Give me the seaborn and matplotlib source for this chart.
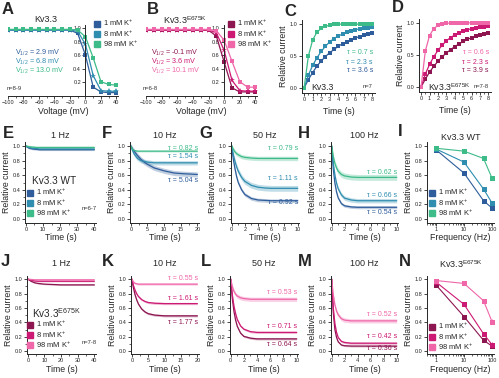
import matplotlib
matplotlib.use('Agg')
import matplotlib.pyplot as plt
from matplotlib.lines import Line2D
from matplotlib.ticker import MultipleLocator, FormatStrFormatter, NullFormatter, LogLocator
import numpy as np
import seaborn as sns

# ─────────────────────────────────────────────
# DATA
# ─────────────────────────────────────────────
CONC_LABELS = ['1 mM K$^{+}$', '8 mM K$^{+}$', '98 mM K$^{+}$']
WT_COLORS   = ['#2f5d9b', '#2f8db0', '#3dbb89']
MUT_COLORS  = ['#8d1651', '#cc1a74', '#ef66a9']

# A / B : steady-state inactivation
volts      = [-100, -90, -80, -70, -60, -50, -40, -30, -20, -10, 0, 10, 20, 30, 40]
wt_ss_1    = [0.97, 0.97, 0.97, 0.97, 0.97, 0.97, 0.97, 0.97, 0.97, 0.92, 0.60, 0.13, 0.06, 0.05, 0.05]
wt_ss_8    = [0.97, 0.97, 0.97, 0.97, 0.97, 0.97, 0.97, 0.97, 0.97, 0.95, 0.76, 0.30, 0.08, 0.07, 0.07]
wt_ss_98   = [0.98, 0.98, 0.98, 0.98, 0.98, 0.98, 0.98, 0.98, 0.98, 0.97, 0.87, 0.56, 0.21, 0.17, 0.16]
mut_ss_1   = [0.97, 0.97, 0.97, 0.97, 0.97, 0.97, 0.97, 0.97, 0.97, 0.88, 0.50, 0.12, 0.06, 0.06, 0.06]
mut_ss_8   = [0.97, 0.97, 0.97, 0.97, 0.97, 0.97, 0.97, 0.97, 0.97, 0.93, 0.67, 0.23, 0.08, 0.07, 0.07]
mut_ss_98  = [0.98, 0.98, 0.98, 0.98, 0.98, 0.98, 0.98, 0.98, 0.98, 0.96, 0.82, 0.51, 0.21, 0.13, 0.13]
wt_vhalf   = ['2.9', '6.8', '13.0']
mut_vhalf  = ['-0.1', '3.6', '10.1']

# C / D : recovery from inactivation
t_rec      = [0, 0.5, 1, 1.5, 2, 2.5, 3, 3.5, 4, 4.5, 5, 5.5, 6, 6.5, 7, 7.5, 8]
wt_rec_1   = [0.0, 0.13, 0.24, 0.34, 0.42, 0.49, 0.55, 0.60, 0.65, 0.69, 0.72, 0.75, 0.78, 0.80, 0.82, 0.84, 0.86]
wt_rec_8   = [0.0, 0.20, 0.35, 0.47, 0.57, 0.65, 0.72, 0.77, 0.81, 0.84, 0.87, 0.89, 0.91, 0.92, 0.93, 0.94, 0.95]
wt_rec_98  = [0.0, 0.50, 0.75, 0.87, 0.93, 0.96, 0.98, 0.99, 0.99, 1.0, 1.0, 1.0, 1.0, 0.99, 1.0, 1.0, 1.0]
mut_rec_1  = [0.0, 0.12, 0.23, 0.32, 0.40, 0.47, 0.53, 0.58, 0.63, 0.67, 0.71, 0.74, 0.77, 0.79, 0.81, 0.83, 0.84]
mut_rec_8  = [0.0, 0.20, 0.35, 0.47, 0.57, 0.65, 0.72, 0.77, 0.81, 0.84, 0.87, 0.89, 0.91, 0.92, 0.93, 0.94, 0.95]
mut_rec_98 = [0.0, 0.56, 0.80, 0.91, 0.96, 0.98, 0.99, 1.0, 1.0, 1.0, 1.0, 1.0, 1.0, 1.0, 1.0, 1.0, 1.0]
# tau values in order 1, 8, 98 mM
wt_rec_tau  = ['3.6', '2.3', '0.7']
mut_rec_tau = ['3.9', '2.3', '0.6']

# E-H / J-M : cumulative inactivation traces
t_1hz        = [0, 2, 4, 6, 8, 10, 15, 20, 25, 30, 35, 40]
wt_1hz_1     = [1.0, 0.97, 0.96, 0.955, 0.95, 0.95, 0.95, 0.95, 0.95, 0.95, 0.95, 0.95]
wt_1hz_8     = [1.0, 0.98, 0.97, 0.965, 0.96, 0.96, 0.96, 0.96, 0.96, 0.96, 0.96, 0.96]
wt_1hz_98    = [1.0, 0.99, 0.985, 0.98, 0.98, 0.98, 0.98, 0.98, 0.98, 0.98, 0.98, 0.98]
mut_1hz_1    = [1.0, 0.97, 0.95, 0.94, 0.935, 0.93, 0.925, 0.92, 0.92, 0.92, 0.92, 0.92]
mut_1hz_8    = [1.0, 0.985, 0.975, 0.97, 0.97, 0.97, 0.97, 0.97, 0.97, 0.97, 0.97, 0.97]
mut_1hz_98   = [1.0, 0.995, 0.99, 0.99, 0.99, 0.99, 0.99, 0.99, 0.99, 0.99, 0.99, 0.99]

t_10hz       = [0, 0.5, 1, 1.5, 2, 3, 4, 5, 7, 10, 13, 16, 20]
wt_10hz_1    = [1.0, 0.96, 0.93, 0.90, 0.87, 0.82, 0.78, 0.75, 0.70, 0.66, 0.63, 0.62, 0.61]
wt_10hz_8    = [1.0, 0.94, 0.89, 0.86, 0.83, 0.80, 0.79, 0.78, 0.77, 0.77, 0.77, 0.77, 0.77]
wt_10hz_98   = [1.0, 0.955, 0.94, 0.935, 0.93, 0.93, 0.93, 0.93, 0.93, 0.93, 0.93, 0.93, 0.93]
mut_10hz_1   = [1.0, 0.875, 0.78, 0.71, 0.655, 0.585, 0.545, 0.52, 0.50, 0.49, 0.49, 0.49, 0.49]
mut_10hz_8   = [1.0, 0.91, 0.845, 0.795, 0.76, 0.715, 0.69, 0.675, 0.665, 0.66, 0.66, 0.66, 0.66]
mut_10hz_98  = [1.0, 0.96, 0.94, 0.935, 0.93, 0.93, 0.93, 0.93, 0.93, 0.93, 0.93, 0.93, 0.93]

t_fast       = [0, 0.25, 0.5, 0.75, 1, 1.5, 2, 3, 4, 5, 6, 8, 10]
wt_50hz_1    = [1.0, 0.82, 0.69, 0.58, 0.50, 0.40, 0.335, 0.28, 0.26, 0.255, 0.25, 0.25, 0.25]
wt_50hz_8    = [1.0, 0.88, 0.79, 0.715, 0.655, 0.57, 0.515, 0.46, 0.435, 0.425, 0.42, 0.42, 0.42]
wt_50hz_98   = [1.0, 0.955, 0.92, 0.895, 0.88, 0.855, 0.845, 0.835, 0.83, 0.83, 0.83, 0.83, 0.83]
wt_100hz_1   = [1.0, 0.69, 0.49, 0.37, 0.29, 0.21, 0.18, 0.165, 0.16, 0.16, 0.16, 0.16, 0.16]
wt_100hz_8   = [1.0, 0.765, 0.60, 0.49, 0.415, 0.33, 0.285, 0.26, 0.25, 0.25, 0.25, 0.25, 0.25]
wt_100hz_98  = [1.0, 0.855, 0.76, 0.70, 0.655, 0.61, 0.59, 0.575, 0.57, 0.57, 0.57, 0.57, 0.57]
mut_50hz_1   = [1.0, 0.73, 0.55, 0.43, 0.345, 0.25, 0.205, 0.18, 0.17, 0.17, 0.17, 0.17, 0.17]
mut_50hz_8   = [1.0, 0.78, 0.625, 0.52, 0.44, 0.35, 0.305, 0.27, 0.26, 0.26, 0.26, 0.26, 0.26]
mut_50hz_98  = [1.0, 0.895, 0.83, 0.79, 0.765, 0.74, 0.73, 0.72, 0.72, 0.72, 0.72, 0.72, 0.72]
mut_100hz_1  = [1.0, 0.535, 0.30, 0.19, 0.13, 0.085, 0.075, 0.07, 0.07, 0.07, 0.07, 0.07, 0.07]
mut_100hz_8  = [1.0, 0.60, 0.38, 0.26, 0.19, 0.135, 0.12, 0.11, 0.11, 0.11, 0.11, 0.11, 0.11]
mut_100hz_98 = [1.0, 0.78, 0.64, 0.555, 0.505, 0.45, 0.43, 0.42, 0.42, 0.42, 0.42, 0.42, 0.42]

# SEM half-widths of shaded bands (1, 8, 98 mM)
sem_wt_1hz    = [0.012, 0.010, 0.020]
sem_wt_10hz   = [0.035, 0.030, 0.012]
sem_wt_50hz   = [0.025, 0.040, 0.030]
sem_wt_100hz  = [0.020, 0.030, 0.040]
sem_mut_1hz   = [0.008, 0.008, 0.010]
sem_mut_10hz  = [0.015, 0.015, 0.015]
sem_mut_50hz  = [0.015, 0.015, 0.030]
sem_mut_100hz = [0.012, 0.015, 0.030]

wt_tau_10hz   = ['5.04', '1.54', '0.82']
wt_tau_50hz   = ['0.92', '1.11', '0.79']
wt_tau_100hz  = ['0.54', '0.66', '0.62']
mut_tau_10hz  = ['1.77', '1.61', '0.55']
mut_tau_50hz  = ['0.64', '0.71', '0.53']
mut_tau_100hz = ['0.36', '0.42', '0.52']

# I / N : frequency dependence
freq          = [1, 10, 50, 100]
wt_freq_1     = [0.95, 0.63, 0.25, 0.15]
wt_freq_8     = [0.96, 0.78, 0.41, 0.22]
wt_freq_98    = [0.97, 0.93, 0.83, 0.56]
mut_freq_1    = [0.92, 0.48, 0.15, 0.07]
mut_freq_8    = [0.96, 0.65, 0.24, 0.09]
mut_freq_98   = [0.98, 0.94, 0.70, 0.41]
wt_freq_sem   = [0.01, 0.02, 0.02, 0.03]
mut_freq_sem  = [0.01, 0.02, 0.02, 0.03]

# ─────────────────────────────────────────────
# STYLE
# ─────────────────────────────────────────────
sns.set_theme(style='ticks')
plt.rcParams['font.family'] = ['Liberation Sans', 'DejaVu Sans']
plt.rcParams['mathtext.fontset'] = 'custom'
plt.rcParams['mathtext.rm'] = 'Liberation Sans'
plt.rcParams['mathtext.it'] = 'Liberation Sans:italic'

W, H = 499, 378
fig = plt.figure(figsize=(W / 100, H / 100), dpi=100)
fig.patch.set_facecolor('white')

TICK_FS  = 4.0
LABEL_FS = 6.3
TITLE_FS = 6.5
TAU_FS   = 5.0
N_FS     = 4.2
MUT_TAG  = 'Kv3.3$^{\\mathrm{E675K}}$'


def add_ax(l, t, r, b):
    return fig.add_axes([l / W, 1 - b / H, (r - l) / W, (b - t) / H])


def ftext(x, y, s, **kw):
    kw.setdefault('va', 'center')
    return fig.text(x / W, 1 - y / H, s, **kw)


def style(ax):
    sns.despine(ax=ax)
    for sp in ('left', 'bottom'):
        ax.spines[sp].set_linewidth(0.7)
    ax.tick_params(which='major', labelsize=TICK_FS, length=2, width=0.6, pad=1.2)
    ax.tick_params(which='minor', length=1.2, width=0.5)
    ax.set_xlabel('')
    ax.set_ylabel('')


def square_legend(ax, colors, x, y):
    handles = [Line2D([], [], marker='s', ls='', color=c, markersize=4.2) for c in colors]
    ax.legend(handles, CONC_LABELS, loc='upper left', bbox_to_anchor=(x / W, 1 - y / H),
              bbox_transform=fig.transFigure, frameon=False, fontsize=5.4,
              handlelength=0.7, handletextpad=0.5, labelspacing=0.0,
              borderpad=0, borderaxespad=0)


def ylab(ax):
    ax.set_ylabel('Relative current', fontsize=LABEL_FS, labelpad=1)


# ─────────────────────────────────────────────
# A / B
# ─────────────────────────────────────────────
def ss_panel(box, series, colors, vhalf, vx, nlabel, title, title_x, leg_x):
    ax = add_ax(*box)
    markers = ['s', '*', 's']
    sizes = [3.0, 4.5, 3.0]
    for y, c, m, ms in zip(series, colors, markers, sizes):
        sns.lineplot(x=volts, y=y, color=c, lw=0.9, marker=m, markersize=ms,
                     markeredgewidth=0, ax=ax)
    style(ax)
    ax.spines['left'].set_position(('data', 0))
    ax.set_xlim(-100, 42)
    ax.set_ylim(0, 1.05)
    ax.set_yticks([0.2, 0.4, 0.6, 0.8, 1.0])
    ax.yaxis.set_major_formatter(FormatStrFormatter('%.1f'))
    ax.set_xticks(range(-100, 41, 20))
    ax.xaxis.set_minor_locator(MultipleLocator(10))
    ax.patch.set_alpha(0)
    square_legend(ax, colors, leg_x, 18)
    for i, (v, c) in enumerate(zip(vhalf, colors)):
        ftext(vx, 53 + 9 * i, 'V$_{1/2}$ = %s mV' % v, color=c, fontsize=5.2, ha='left')
    ftext(vx - 8, 88, nlabel, fontsize=N_FS, ha='left', color='#333333')
    ftext(title_x, 20, title, fontsize=TITLE_FS, ha='center')
    ftext((box[0] + box[2]) / 2, 111, 'Voltage (mV)', fontsize=LABEL_FS, ha='center')
    return ax


ss_panel((8, 24.6, 118, 96), [wt_ss_1, wt_ss_8, wt_ss_98], WT_COLORS, wt_vhalf, 15,
         'n=8-9', 'Kv3.3', 46, 94)
ss_panel((146, 24.6, 257, 96), [mut_ss_1, mut_ss_8, mut_ss_98], MUT_COLORS, mut_vhalf, 151,
         'n=6-8', MUT_TAG, 185, 228)

# ─────────────────────────────────────────────
# C / D
# ─────────────────────────────────────────────
def rec_panel(box, series, colors, taus, tag, nlabel):
    ax = add_ax(*box)
    for y, c in zip(series, colors):
        sns.lineplot(x=t_rec, y=y, color=c, lw=0.9, marker='s', markersize=2.6,
                     markeredgewidth=0, ax=ax)
    style(ax)
    ax.set_xlim(-0.25, 8.3)
    ax.set_ylim(-0.08, 1.06)
    ax.set_yticks([0.0, 0.5, 1.0])
    ax.yaxis.set_major_formatter(FormatStrFormatter('%.1f'))
    ax.set_xticks(range(0, 9))
    ax.xaxis.set_minor_locator(MultipleLocator(0.5))
    ylab(ax)
    ax.set_xlabel('Time (s)', fontsize=LABEL_FS, labelpad=3)
    right = box[2] - 2
    # top line is the 98 mM fit, bottom line the 1 mM fit
    for i, (tau, c) in enumerate(zip(taus[::-1], colors[::-1])):
        ftext(right, 53 + 9 * i, 'τ = %s s' % tau, color=c, fontsize=TAU_FS, ha='right')
    ftext(box[0] + 9, 87, tag, fontsize=6.3, ha='left')
    ftext(right, 87, nlabel, fontsize=N_FS, ha='right', color='#333333')
    return ax


rec_panel((302, 20, 375, 93), [wt_rec_1, wt_rec_8, wt_rec_98], WT_COLORS, wt_rec_tau,
          'Kv3.3', 'n=7')
rec_panel((419, 19, 491, 92), [mut_rec_1, mut_rec_8, mut_rec_98], MUT_COLORS, mut_rec_tau,
          MUT_TAG, 'n=7-8')

# ─────────────────────────────────────────────
# TRACES (E-H, J-M)
# ─────────────────────────────────────────────
def trace_panel(box, t, series, sems, colors, xlim, xstep, ylim, title, title_y,
                xlab_y, taus=None, tau_y=None):
    ax = add_ax(*box)
    for y, s, c in zip(series, sems, colors):
        y = np.asarray(y)
        ax.fill_between(t, y - s, y + s, color=c, alpha=0.3, lw=0)
        sns.lineplot(x=t, y=y, color=c, lw=0.9, ax=ax)
    style(ax)
    ax.set_xlim(*xlim)
    ax.set_ylim(*ylim)
    ax.set_yticks([0.0, 0.2, 0.4, 0.6, 0.8, 1.0])
    ax.yaxis.set_major_formatter(FormatStrFormatter('%.1f'))
    ax.yaxis.set_minor_locator(MultipleLocator(0.1))
    ax.xaxis.set_major_locator(MultipleLocator(xstep))
    ax.xaxis.set_minor_locator(MultipleLocator(xstep / 2))
    ylab(ax)
    cx = (box[0] + box[2]) / 2
    ftext(cx, title_y, title, fontsize=TITLE_FS, ha='center')
    ftext(cx, xlab_y, 'Time (s)', fontsize=LABEL_FS, ha='center')
    if taus is not None:
        for tau, yy, c in zip(taus, tau_y, colors):
            ftext(box[2] - 1, yy, 'τ = %s s' % tau, color=c, fontsize=TAU_FS, ha='right')
    return ax


ROW2 = (142.4, 222.6)
ROW3 = (275.5, 354.0)
ylim2 = (-0.05, 1.05)
ylim3 = (-0.04, 1.05)

axE = trace_panel((25, ROW2[0], 96, ROW2[1]), t_1hz, [wt_1hz_1, wt_1hz_8, wt_1hz_98],
                  sem_wt_1hz, WT_COLORS, (-0.5, 41), 10, ylim2, '1 Hz', 136, 237)
trace_panel((130, ROW2[0], 199, ROW2[1]), t_10hz, [wt_10hz_1, wt_10hz_8, wt_10hz_98],
            sem_wt_10hz, WT_COLORS, (-0.25, 20.5), 5, ylim2, '10 Hz', 136, 237,
            wt_tau_10hz, [180, 156, 149])
trace_panel((231, ROW2[0], 299, ROW2[1]), t_fast, [wt_50hz_1, wt_50hz_8, wt_50hz_98],
            sem_wt_50hz, WT_COLORS, (-0.1, 10.2), 2, ylim2, '50 Hz', 136, 237,
            wt_tau_50hz, [202, 178, 148])
trace_panel((331, ROW2[0], 398, ROW2[1]), t_fast, [wt_100hz_1, wt_100hz_8, wt_100hz_98],
            sem_wt_100hz, WT_COLORS, (-0.1, 10.2), 2, ylim2, '100 Hz', 136, 237,
            wt_tau_100hz, [213, 195, 173])

axJ = trace_panel((27, ROW3[0], 96, ROW3[1]), t_1hz, [mut_1hz_1, mut_1hz_8, mut_1hz_98],
                  sem_mut_1hz, MUT_COLORS, (-0.5, 41), 10, ylim3, '1 Hz', 264, 370)
trace_panel((131, ROW3[0], 199, ROW3[1]), t_10hz, [mut_10hz_1, mut_10hz_8, mut_10hz_98],
            sem_mut_10hz, MUT_COLORS, (-0.25, 20.5), 5, ylim3, '10 Hz', 264, 370,
            mut_tau_10hz, [322, 298, 279])
trace_panel((230, ROW3[0], 298, ROW3[1]), t_fast, [mut_50hz_1, mut_50hz_8, mut_50hz_98],
            sem_mut_50hz, MUT_COLORS, (-0.1, 10.2), 2, ylim3, '50 Hz', 264, 370,
            mut_tau_50hz, [344, 327, 293])
trace_panel((331, ROW3[0], 398, ROW3[1]), t_fast, [mut_100hz_1, mut_100hz_8, mut_100hz_98],
            sem_mut_100hz, MUT_COLORS, (-0.1, 10.2), 2, ylim3, '100 Hz', 264, 370,
            mut_tau_100hz, [349, 336, 315])

# 1 Hz legends
square_legend(axE, WT_COLORS, 27, 187)
ftext(32, 181, 'Kv3.3 WT', fontsize=7.2, ha='left')
ftext(82, 209, 'n=6-7', fontsize=N_FS, ha='left', color='#333333')
square_legend(axJ, MUT_COLORS, 27, 319)
ftext(32, 313, MUT_TAG, fontsize=7.2, ha='left')
ftext(82, 342, 'n=7-8', fontsize=N_FS, ha='left', color='#333333')

# ─────────────────────────────────────────────
# I / N : frequency
# ─────────────────────────────────────────────
def freq_panel(box, series, sem, colors, ylim, title, title_y, xlab_y, leg_y):
    ax = add_ax(*box)
    for y, c in zip(series, colors):
        ax.errorbar(freq, y, yerr=sem, fmt='none', ecolor=c, elinewidth=0.6, capsize=0)
        sns.lineplot(x=freq, y=y, color=c, lw=0.8, marker='s', markersize=3.6,
                     markeredgewidth=0, ax=ax)
    style(ax)
    ax.set_xscale('log')
    ax.set_xlim(0.48, 118)
    ax.set_ylim(*ylim)
    ax.set_xticks([1, 10, 100])
    ax.set_xticklabels(['1', '10', '100'])
    ax.xaxis.set_minor_locator(LogLocator(base=10, subs=np.arange(2, 10)))
    ax.xaxis.set_minor_formatter(NullFormatter())
    ax.set_yticks([0.0, 0.2, 0.4, 0.6, 0.8, 1.0])
    ax.yaxis.set_major_formatter(FormatStrFormatter('%.1f'))
    ylab(ax)
    cx = (box[0] + box[2]) / 2
    ftext(cx, title_y, title, fontsize=TITLE_FS, ha='center')
    ftext(cx, xlab_y, 'Frequency (Hz)', fontsize=LABEL_FS, ha='center')
    square_legend(ax, colors, box[0] + 2, leg_y)
    return ax


freq_panel((427, ROW2[0], 494, ROW2[1]), [wt_freq_1, wt_freq_8, wt_freq_98], wt_freq_sem,
           WT_COLORS, ylim2, 'Kv3.3 WT', 138, 237, 187)
freq_panel((427, ROW3[0], 494, ROW3[1]), [mut_freq_1, mut_freq_8, mut_freq_98], mut_freq_sem,
           MUT_COLORS, ylim3, MUT_TAG, 264, 370, 321)

# ─────────────────────────────────────────────
# PANEL LETTERS
# ─────────────────────────────────────────────
letters = {'A': (8, 10), 'B': (153, 10), 'C': (290, 12), 'D': (398, 8),
           'E': (8, 134), 'F': (107, 134), 'G': (206, 134), 'H': (304, 134), 'I': (400, 132),
           'J': (5, 262), 'K': (108, 262), 'L': (206, 262), 'M': (305, 262), 'N': (405, 262)}
for k, (x, y) in letters.items():
    ftext(x, y, k, fontsize=12, fontweight='bold', ha='center')

plt.savefig('out.png', dpi=100)
plt.close()
